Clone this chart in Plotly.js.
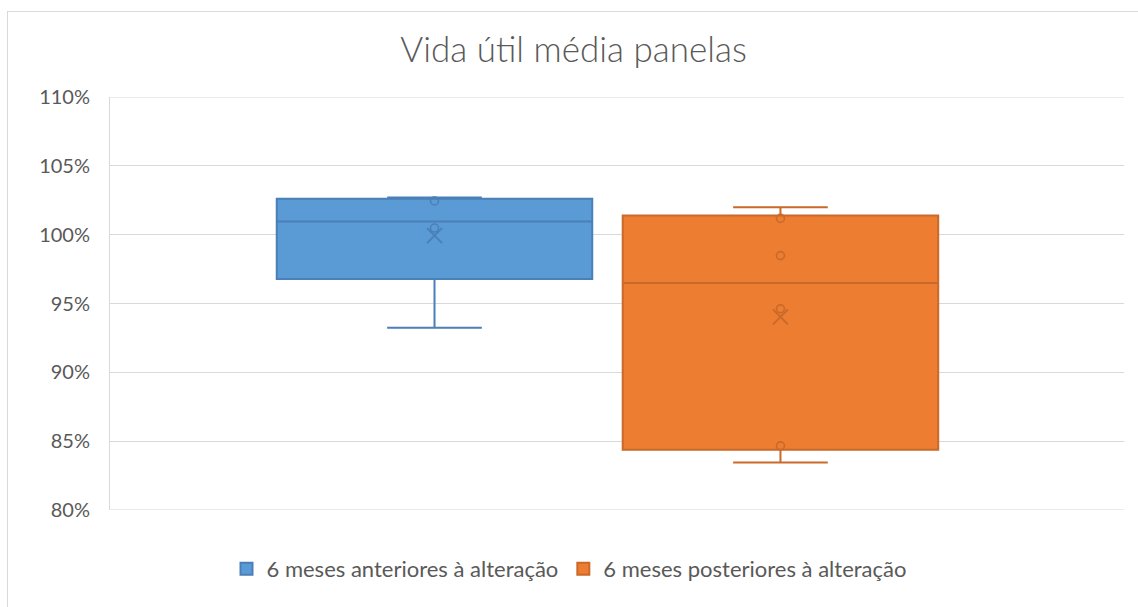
<!DOCTYPE html>
<html>
<head>
<meta charset="utf-8">
<script src="https://cdn.plot.ly/plotly-3.0.1.min.js"></script>
<style>
  html, body { margin: 0; padding: 0; background: #ffffff; overflow: hidden; }
  #chart { width: 1138px; height: 607px; }
  #frame { position: absolute; left: 7px; top: 11px; width: 1300px; height: 800px;
           border: 1px solid #d9d9d9; pointer-events: none; }
</style>
</head>
<body>
<div id="chart"></div>
<div id="frame"></div>
<script>
// ---- data ----
var categories = ['6 meses anteriores à alteração', '6 meses posteriores à alteração'];
var q1Values = [0.9678, 0.8437];
var medianValues = [1.0096, 0.9649];
var q3Values = [1.0261, 1.0140];
var lowerWhisker = [0.9323, 0.8345];
var upperWhisker = [1.0270, 1.0200];
var meanValues = [0.9993, 0.9403];
var innerPointsAnteriores = [1.0048, 1.0245];
var innerPointsPosteriores = [0.8466, 0.9461, 0.9848, 1.0118];
var yTickValues = [0.80, 0.85, 0.90, 0.95, 1.00, 1.05, 1.10];

// ---- styles ----
var fills = ['#5b9bd5', '#ed7d31'];
var lines = ['#4a7fb8', '#c96a2b'];
var innerPoints = [innerPointsAnteriores, innerPointsPosteriores];
var FONT = 'Lato, "Open Sans", sans-serif';
var TEXT = '#595959';
var GRID = '#d9d9d9';

var traces = [];
categories.forEach(function (cat, i) {
  traces.push({
    type: 'box',
    name: cat,
    legendgroup: 'g' + i,
    x: [cat],
    q1: [q1Values[i]],
    median: [medianValues[i]],
    q3: [q3Values[i]],
    lowerfence: [lowerWhisker[i]],
    upperfence: [upperWhisker[i]],
    width: 0.912,
    whiskerwidth: 0.3,
    fillcolor: fills[i],
    line: { color: lines[i], width: 2 },
    boxpoints: false,
    hoverinfo: 'skip'
  });
  traces.push({
    type: 'scatter',
    mode: 'markers',
    x: innerPoints[i].map(function () { return cat; }),
    y: innerPoints[i],
    legendgroup: 'g' + i,
    showlegend: false,
    hoverinfo: 'skip',
    marker: { symbol: 'circle-open', size: 8, color: lines[i], line: { width: 1.6, color: lines[i] } }
  });
  traces.push({
    type: 'scatter',
    mode: 'markers',
    x: [cat],
    y: [meanValues[i]],
    legendgroup: 'g' + i,
    showlegend: false,
    hoverinfo: 'skip',
    marker: { symbol: 'x-thin-open', size: 15, color: lines[i], line: { width: 2, color: lines[i] } }
  });
});

// edge gridlines (Plotly drops gridlines lying on the plot-area edges)
var edgeLines = [yTickValues[0], yTickValues[yTickValues.length - 1]].map(function (v) {
  return { type: 'line', xref: 'paper', yref: 'y', x0: 0, x1: 1, y0: v, y1: v,
           line: { color: GRID, width: 1 }, layer: 'below' };
});

var layout = {
  width: 1138,
  height: 607,
  paper_bgcolor: '#ffffff',
  plot_bgcolor: '#ffffff',
  font: { family: FONT, color: TEXT, size: 20 },
  margin: { l: 110, r: 14, t: 97, b: 97, pad: 0 },
  title: {
    text: 'Vida útil média panelas',
    font: { family: FONT, size: 35, color: TEXT, weight: 300 },
    x: 0.504, xanchor: 'center', xref: 'container',
    y: 0.918, yanchor: 'middle', yref: 'container'
  },
  showlegend: true,
  legend: {
    orientation: 'h',
    x: 0.5, xanchor: 'center', xref: 'container',
    y: 0.0626, yanchor: 'middle', yref: 'container',
    font: { family: FONT, size: 22, color: TEXT },
    itemwidth: 30,
    traceorder: 'normal'
  },
  shapes: edgeLines,
  boxmode: 'overlay',
  xaxis: {
    type: 'category',
    categoryorder: 'array',
    categoryarray: categories,
    range: [-0.938, 1.993],
    showticklabels: false,
    showgrid: false,
    zeroline: false,
    showline: false,
    ticks: '',
    fixedrange: true
  },
  yaxis: {
    range: [0.80, 1.10],
    tickvals: yTickValues,
    tickformat: '.0%',
    showgrid: true,
    gridcolor: GRID,
    gridwidth: 1,
    zeroline: false,
    showline: true,
    linecolor: GRID,
    linewidth: 1,
    ticks: '',
    ticklabelstandoff: 15,
    tickfont: { family: FONT, size: 20, color: TEXT },
    fixedrange: true
  }
};

Plotly.newPlot('chart', traces, layout, { displayModeBar: false, staticPlot: true });
</script>
</body>
</html>
